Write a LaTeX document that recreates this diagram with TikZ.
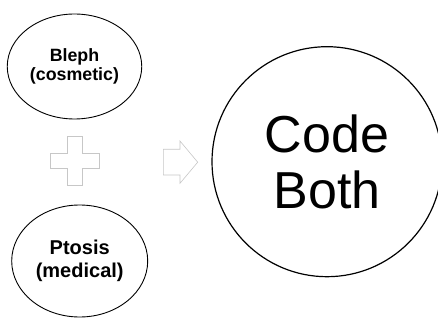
\documentclass[tikz,border=0pt]{standalone}
\usepackage{fontspec}
\setmainfont{Liberation Sans}
\usetikzlibrary{shapes.geometric}
\begin{document}
\begin{tikzpicture}[x=1pt,y=-1pt,
  oval/.style={ellipse,draw=black,line width=0.9pt,inner sep=0pt,align=center},
  smalltxt/.style={font=\fontsize{17.8}{19.5}\selectfont\bfseries},
  midtxt/.style={font=\fontsize{20}{22.5}\selectfont\bfseries},
  bigtxt/.style={font=\fontsize{52}{56}\selectfont},
  ghost/.style={draw=black!22,line width=0.6pt,fill=white}]
\useasboundingbox (0,0) rectangle (438,320);
\node[oval,smalltxt,minimum width=134.5pt,minimum height=105pt] (bleph) at (74.5,66.5) {Bleph\\(cosmetic)};
\node[oval,midtxt,minimum width=136pt,minimum height=112pt] (ptosis) at (79.7,261) {Ptosis\\(medical)};
\node[circle,draw=black,line width=1.2pt,inner sep=0pt,minimum size=230pt,align=center,bigtxt] (both) at (327,161.7) {Code\\Both};
% plus sign
\draw[ghost] (67.5,136.5) -- (82.5,136.5) -- (82.5,153.5) -- (99.5,153.5) -- (99.5,168.5) -- (82.5,168.5) -- (82.5,185.5) -- (67.5,185.5) -- (67.5,168.5) -- (50.5,168.5) -- (50.5,153.5) -- (67.5,153.5) -- cycle;
% arrow
\draw[ghost] (163.3,149.3) -- (180,149.3) -- (180,141) -- (197.7,162.2) -- (180,183.3) -- (180,175) -- (163.3,175) -- cycle;
\end{tikzpicture}
\end{document}
